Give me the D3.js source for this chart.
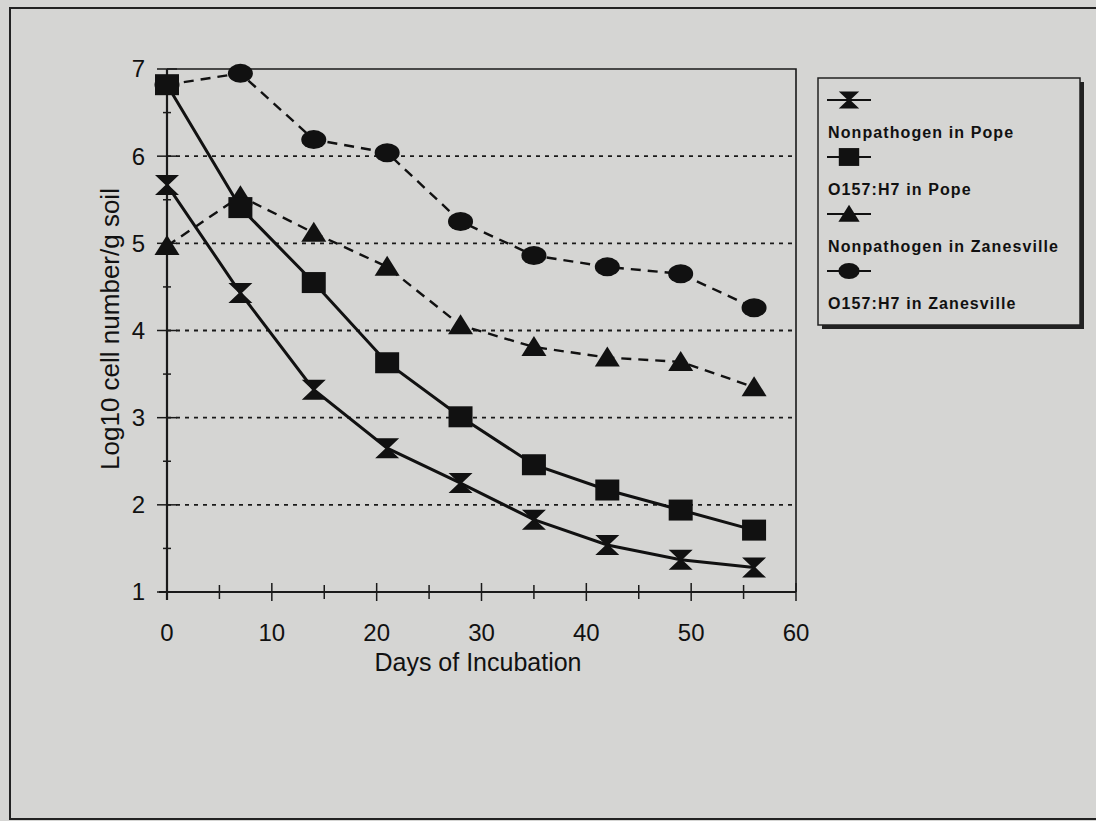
<!DOCTYPE html>
<html>
<head>
<meta charset="utf-8">
<script src="https://cdn.jsdelivr.net/npm/d3@7"></script>
<style>
  body { margin: 0; background: #d5d5d3; }
  svg { display: block; font-family: "Liberation Sans", Arial, sans-serif; }
</style>
</head>
<body>
<svg id="chart"></svg>
<script>
// data
var days = [0, 7, 14, 21, 28, 35, 42, 49, 56];
var nonpathPope = [5.67, 4.43, 3.32, 2.65, 2.25, 1.83, 1.54, 1.37, 1.28];
var o157Pope = [6.82, 5.41, 4.55, 3.63, 3.01, 2.46, 2.17, 1.94, 1.71];
var nonpathZanes = [4.97, 5.54, 5.12, 4.73, 4.06, 3.81, 3.69, 3.64, 3.35];
var o157Zanes = [6.82, 6.95, 6.19, 6.04, 5.25, 4.86, 4.73, 4.65, 4.26];
var seriesNames = ["Nonpathogen in Pope", "O157:H7 in Pope", "Nonpathogen in Zanesville", "O157:H7 in Zanesville"];
var xTicks = [0, 10, 20, 30, 40, 50, 60];
var yTicks = [1, 2, 3, 4, 5, 6, 7];
var gridValues = [2, 3, 4, 5, 6];

var W = 1096, H = 821;
var margin = {top: 69, left: 167},
    width = 796 - 167,
    height = 592 - 69;

var svg = d3.select("#chart").attr("width", W).attr("height", H);

// background + scanned page frame
svg.append("rect").attr("width", W).attr("height", H).attr("fill", "#d5d5d3");
svg.append("path")
    .attr("d", "M1100,8 L10,8 L10,819 L1100,819")
    .attr("fill", "none").attr("stroke", "#222").attr("stroke-width", 2);

var g = svg.append("g")
    .attr("transform", "translate(" + margin.left + "," + margin.top + ")");

var x = d3.scaleLinear().domain([0, 60]).range([0, width]);
var y = d3.scaleLinear().domain([1, 7]).range([height, 0]);

// dotted gridlines
g.selectAll(".grid")
    .data(gridValues)
  .enter().append("line")
    .attr("x1", 0).attr("x2", width)
    .attr("y1", function(d) { return y(d); })
    .attr("y2", function(d) { return y(d); })
    .attr("stroke", "#1a1a1a")
    .attr("stroke-width", 1.8)
    .attr("stroke-dasharray", "4,5");

// frame top + right
g.append("path")
    .attr("d", "M0,0 L" + width + ",0 L" + width + "," + height)
    .attr("fill", "none").attr("stroke", "#1a1a1a").attr("stroke-width", 1.6);

// x axis
var xAxis = g.append("g").attr("transform", "translate(0," + height + ")");
xAxis.append("line").attr("x1", -8).attr("x2", width).attr("stroke", "#1a1a1a").attr("stroke-width", 2.2);
xAxis.selectAll(".tk")
    .data(d3.range(5, 61, 5))
  .enter().append("line")
    .attr("x1", function(d) { return x(d); })
    .attr("x2", function(d) { return x(d); })
    .attr("y1", function(d) { return d % 10 === 0 ? -9 : -7; })
    .attr("y2", function(d) { return d % 10 === 0 ? 9 : 7; })
    .attr("stroke", "#1a1a1a").attr("stroke-width", 1.5);
xAxis.selectAll(".lbl")
    .data(xTicks)
  .enter().append("text")
    .attr("x", function(d) { return x(d); })
    .attr("y", 49)
    .attr("text-anchor", "middle")
    .style("font-size", "24px")
    .attr("fill", "#111")
    .text(function(d) { return d; });

// y axis
var yAxis = g.append("g");
yAxis.append("line").attr("y1", 0).attr("y2", height + 8).attr("stroke", "#1a1a1a").attr("stroke-width", 2.2);
yAxis.selectAll(".tk")
    .data(d3.range(1, 7.01, 0.5))
  .enter().append("line")
    .attr("y1", function(d) { return y(d); })
    .attr("y2", function(d) { return y(d); })
    .attr("x1", function(d) { return d % 1 === 0 ? -10 : -4; })
    .attr("x2", function(d) { return d % 1 === 0 ? 10 : 4; })
    .attr("stroke", "#1a1a1a").attr("stroke-width", 1.5);
yAxis.selectAll(".lbl")
    .data(yTicks)
  .enter().append("text")
    .attr("x", -22)
    .attr("y", function(d) { return y(d); })
    .attr("dy", "0.35em")
    .attr("text-anchor", "end")
    .style("font-size", "24px")
    .attr("fill", "#111")
    .text(function(d) { return d; });

// axis titles
svg.append("text")
    .attr("x", 478).attr("y", 671)
    .attr("text-anchor", "middle")
    .style("font-size", "25px")
    .attr("fill", "#111")
    .text("Days of Incubation");

svg.append("text")
    .attr("transform", "translate(119,329) rotate(-90)")
    .attr("text-anchor", "middle")
    .style("font-size", "26px")
    .attr("fill", "#111")
    .text("Log10 cell number/g soil");

// markers
var hourglass = "M-12,-10 L12,-10 L1.5,0 L12,10 L-12,10 L-1.5,0 Z";
function marker(sel, type, s) {
  s = s || 1;
  if (type === "hourglass") {
    sel.append("path").attr("d", hourglass).attr("transform", "scale(" + s + ")");
  } else if (type === "square") {
    sel.append("rect").attr("x", -12 * s).attr("y", -10.5 * s).attr("width", 24 * s).attr("height", 21 * s);
  } else if (type === "triangle") {
    sel.append("path").attr("d", "M0,-11 L12.5,9 L-12.5,9 Z").attr("transform", "scale(" + s + ")");
  } else {
    sel.append("ellipse").attr("rx", 12.5 * s).attr("ry", 9.5 * s);
  }
}

var series = [
  {name: seriesNames[0], values: nonpathPope, type: "hourglass", dash: null},
  {name: seriesNames[1], values: o157Pope, type: "square", dash: null},
  {name: seriesNames[2], values: nonpathZanes, type: "triangle", dash: "10,7"},
  {name: seriesNames[3], values: o157Zanes, type: "circle", dash: "10,7"}
];

var line = d3.line()
    .x(function(d) { return x(d[0]); })
    .y(function(d) { return y(d[1]); });

series.forEach(function(s) {
  var pts = days.map(function(d, i) { return [d, s.values[i]]; });
  g.append("path")
      .datum(pts)
      .attr("d", line)
      .attr("fill", "none")
      .attr("stroke", "#111")
      .attr("stroke-width", s.dash ? 2.4 : 3)
      .attr("stroke-dasharray", s.dash);
});

// draw dashed series markers first, solid on top (square covers circle at day 0)
[3, 2, 0, 1].forEach(function(k) {
  var s = series[k];
  days.forEach(function(d, i) {
    var m = g.append("g")
        .attr("transform", "translate(" + x(d) + "," + y(s.values[i]) + ")")
        .attr("fill", "#111");
    marker(m, s.type);
  });
});

// legend
var lg = svg.append("g").attr("transform", "translate(818,78)");
lg.append("rect").attr("x", 4).attr("y", 4).attr("width", 262).attr("height", 247).attr("fill", "#222");
lg.append("rect").attr("width", 262).attr("height", 247).attr("fill", "#d5d5d3")
    .attr("stroke", "#222").attr("stroke-width", 1.5);

series.forEach(function(s, i) {
  var yy = 22 + i * 57;
  lg.append("line")
      .attr("x1", 9).attr("x2", 53)
      .attr("y1", yy).attr("y2", yy)
      .attr("stroke", "#111").attr("stroke-width", 2);
  var m = lg.append("g").attr("transform", "translate(31," + yy + ")").attr("fill", "#111");
  marker(m, s.type, 0.85);
  lg.append("text")
      .attr("x", 10).attr("y", yy + 38)
      .style("font-size", "16px")
      .style("font-weight", "bold")
      .style("letter-spacing", "1.1px")
      .attr("fill", "#111")
      .text(s.name);
});
</script>
</body>
</html>
